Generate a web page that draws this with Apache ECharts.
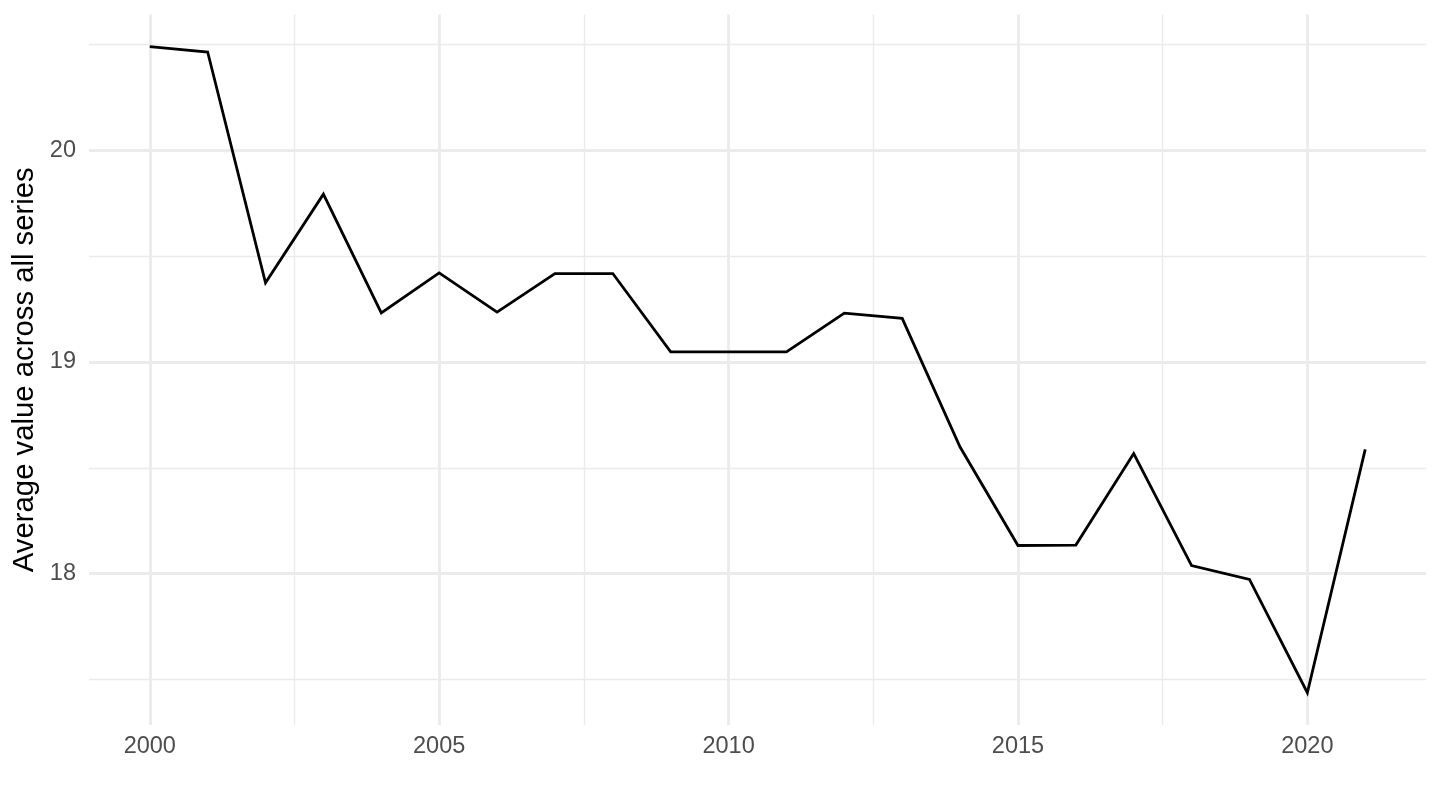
<!DOCTYPE html>
<html>
<head>
<meta charset="utf-8">
<script src="https://cdn.jsdelivr.net/npm/echarts@6/dist/echarts.min.js"></script>
<style>
html,body{margin:0;padding:0;background:#fff;}
#chart{width:1440px;height:810px;}
</style>
</head>
<body>
<div id="chart"></div>
<script>
var years = [2000,2001,2002,2003,2004,2005,2006,2007,2008,2009,2010,2011,2012,2013,2014,2015,2016,2017,2018,2019,2020,2021];
var values = [20.488,20.463,19.373,19.792,19.231,19.420,19.235,19.417,19.417,19.047,19.047,19.047,19.230,19.205,18.598,18.133,18.135,18.567,18.038,17.973,17.438,18.587];
var xMajorTicks = [2000,2005,2010,2015,2020];
var xMinorTicks = [2002.5,2007.5,2012.5,2017.5];
var yMajorTicks = [18,19,20];
var yMinorTicks = [17.5,18.5,19.5,20.5];
var yTitle = 'Average value across all series';

var FONT = '"Liberation Sans", Arial, Helvetica, sans-serif';
function expand(arr){
  var lo = Math.min.apply(null, arr), hi = Math.max.apply(null, arr);
  var pad = (hi - lo) * 0.05;
  return [lo - pad, hi + pad];
}
var xr = expand(years), yr = expand(values);
var GRID = '#EBEBEB';

var chart = echarts.init(document.getElementById('chart'), null, {renderer:'canvas'});
chart.setOption({
  animation: false,
  backgroundColor: '#ffffff',
  grid: {left: 89, right: 14, top: 14.4, bottom: 85, containLabel: false, outerBoundsMode: 'none'},
  xAxis: [
    {
      type: 'value', min: xr[0], max: xr[1], position: 'bottom',
      axisLine: {show: false},
      axisTick: {show: false, customValues: xMajorTicks},
      axisLabel: {customValues: xMajorTicks, formatter: function(v){return String(v);}, color: '#4D4D4D', fontSize: 23.5, fontFamily: FONT, margin: 10},
      splitLine: {show: true, lineStyle: {color: GRID, width: 2.8}},
      z: 1
    },
    {
      type: 'value', min: xr[0], max: xr[1],
      axisLine: {show: false},
      axisTick: {show: false, customValues: xMinorTicks},
      axisLabel: {show: false},
      splitLine: {show: true, lineStyle: {color: GRID, width: 1.4}},
      z: 0
    }
  ],
  yAxis: [
    {
      type: 'value', min: yr[0], max: yr[1], position: 'left',
      axisLine: {show: false},
      axisTick: {show: false, customValues: yMajorTicks},
      axisLabel: {customValues: yMajorTicks, formatter: function(v){return String(v);}, color: '#4D4D4D', fontSize: 23.5, fontFamily: FONT, margin: 13},
      splitLine: {show: true, lineStyle: {color: GRID, width: 2.8}},
      name: yTitle, nameLocation: 'middle', nameRotate: 90, nameGap: 50,
      nameTextStyle: {color: '#000000', fontSize: 29.3, fontFamily: FONT},
      z: 1
    },
    {
      type: 'value', min: yr[0], max: yr[1],
      axisLine: {show: false},
      axisTick: {show: false, customValues: yMinorTicks},
      axisLabel: {show: false},
      splitLine: {show: true, lineStyle: {color: GRID, width: 1.4}},
      z: 0
    }
  ],
  series: [{
    type: 'line',
    xAxisIndex: 0, yAxisIndex: 0,
    data: years.map(function(y, i){ return [y, values[i]]; }),
    showSymbol: false,
    symbol: 'none',
    lineStyle: {color: '#000000', width: 2.8, join: 'miter'},
    z: 5
  }]
});
</script>
</body>
</html>
